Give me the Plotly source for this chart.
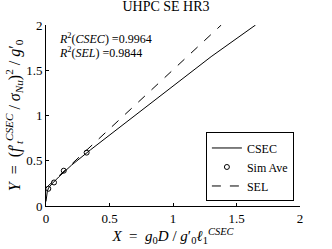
import plotly.graph_objects as go

# CSEC fit curve
csec_x = [0, 0.003, 0.01, 0.02, 0.05, 0.1, 0.2, 0.35, 0.6, 1.0, 1.3, 1.65]
csec_y = [0.05, 0.11, 0.16, 0.2, 0.25, 0.32, 0.45, 0.62, 0.89, 1.33, 1.65, 2.0]

# simulation averages
sim_x = [0.018, 0.063, 0.14, 0.32]
sim_y = [0.19, 0.26, 0.39, 0.59]

# SEL fit line
sel_x = [0, 1.38]
sel_y = [0.2, 2.0]

r2_csec = 0.9964
r2_sel = 0.9844

FONT = "Liberation Serif"

fig = go.Figure()

fig.add_trace(go.Scatter(
    x=csec_x, y=csec_y, name='CSEC', mode='lines',
    line=dict(color='black', width=1)
))
fig.add_trace(go.Scatter(
    x=sim_x, y=sim_y, name='Sim Ave', mode='markers',
    marker=dict(symbol='circle-open', size=5, color='black', line=dict(width=1))
))
fig.add_trace(go.Scatter(
    x=sel_x, y=sel_y, name='SEL', mode='lines',
    line=dict(color='black', width=1, dash='dash')
))

# R^2 labels, one per line
for txt, ypos in [(f"<i>R</i><sup>2</sup>(<i>CSEC</i>) ={r2_csec}", 0.925),
                  (f"<i>R</i><sup>2</sup>(<i>SEL</i>) ={r2_sel}", 0.85)]:
    fig.add_annotation(
        x=0.045, y=ypos, xref='paper', yref='paper', xanchor='left', yanchor='middle',
        showarrow=False, align='left', text=txt,
        font=dict(family=FONT, size=12, color='black')
    )

axis_style = dict(
    showgrid=False, zeroline=False, showline=True, linecolor='black', linewidth=1,
    ticks='inside', ticklen=3, tickcolor='black', mirror=False, automargin=False,
    tickfont=dict(family=FONT, size=13, color='black'),
)

fig.update_layout(
    width=332, height=249, autosize=False,
    template='plotly_white',
    paper_bgcolor='white', plot_bgcolor='white',
    margin=dict(l=46, r=32, t=25, b=43),
    title=dict(text='UHPC SE HR3', x=0.5, xanchor='center', y=0.995, yanchor='top',
               pad=dict(t=0, b=0),
               font=dict(family=FONT, size=14, color='black')),
    xaxis=dict(range=[0, 2], dtick=0.5,
               title=dict(text="<i>X</i>  =  <i>g</i><sub>0</sub><i>D</i> / <i>g</i>′<sub>0</sub><i>ℓ</i><sub>1</sub><sup><i>CSEC</i></sup>",
                          font=dict(family=FONT, size=15, color='black'), standoff=0),
               **axis_style),
    yaxis=dict(range=[0, 2], dtick=0.5,
               title=dict(text="<i>Y</i>  =  (<i>f</i>′<sub><i>t</i></sub><sup><i>CSEC</i></sup> / <i>σ</i><sub><i>Nu</i></sub>)<sup>2</sup> / <i>g</i>′<sub>0</sub>",
                          font=dict(family=FONT, size=16, color='black'), standoff=1),
               **axis_style),
    legend=dict(
        x=0.976, y=0.025, xanchor='right', yanchor='bottom',
        bgcolor='white', bordercolor='black', borderwidth=1,
        font=dict(family=FONT, size=12, color='black'),
        itemwidth=30, tracegroupgap=0,
    ),
    showlegend=True,
)

# drop the default page margin so the figure sits at the window's corner
fig.write_html("out.html", config={"displayModeBar": False},
               post_script="document.body.style.margin='0';")
